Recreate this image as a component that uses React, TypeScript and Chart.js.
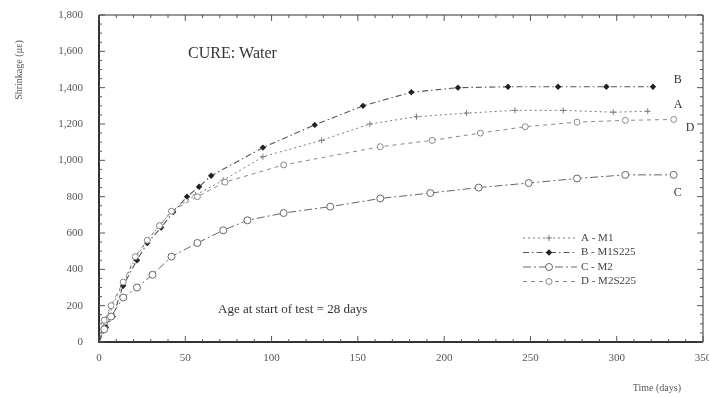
import React, { useEffect, useRef } from "react";
import { Chart, registerables } from "chart.js";

Chart.register(...registerables);

// ---- data ----
const daysA = [0, 3, 7, 14, 21, 28, 35, 42, 56, 72, 95, 129, 157, 184, 213, 241, 269, 298, 318];
const shrinkA = [0, 110, 190, 320, 460, 560, 640, 720, 810, 890, 1020, 1110, 1200, 1240, 1260, 1275, 1275, 1265, 1270];

const daysB = [0, 4, 8, 14, 22, 28, 36, 43, 51, 58, 65, 95, 125, 153, 181, 208, 237, 266, 294, 321];
const shrinkB = [0, 80, 140, 310, 450, 545, 630, 715, 800, 855, 915, 1070, 1195, 1300, 1375, 1400, 1405, 1405, 1405, 1405];

const daysC = [0, 3, 7, 14, 22, 31, 42, 57, 72, 86, 107, 134, 163, 192, 220, 249, 277, 305, 333];
const shrinkC = [0, 70, 140, 245, 300, 370, 470, 545, 615, 670, 710, 745, 790, 820, 850, 875, 900, 920, 920];

const daysD = [0, 3, 7, 14, 21, 28, 35, 42, 57, 73, 107, 163, 193, 221, 247, 277, 305, 333];
const shrinkD = [0, 120, 200, 330, 470, 560, 640, 720, 800, 880, 975, 1075, 1110, 1150, 1185, 1210, 1220, 1225];

const seriesNames = ["A - M1", "B - M1S225", "C - M2", "D - M2S225"];
const curveLetters = ["A", "B", "C", "D"];
// where each curve letter sits, in data units (days, µε)
const letterDays = [333, 333, 333, 340];
const letterValues = [1304, 1442, 820, 1178];

const xTickValues = [0, 50, 100, 150, 200, 250, 300, 350];
const yTickValues = [0, 200, 400, 600, 800, 1000, 1200, 1400, 1600, 1800];

const titleText = "CURE: Water";
const noteText = "Age at start of test = 28 days";
const yTitle = "Shrinkage (\u00b5\u03b5)";
const xTitle = "Time (days)";

const SERIF = "'Liberation Serif', 'DejaVu Serif', serif";

type Style = { color: string; dash: number[]; width: number; marker: string; fill: string; r: number };
const styles: Style[] = [
  { color: "#7a7a7a", dash: [2, 3], width: 1, marker: "cross", fill: "#777", r: 3 },
  { color: "#555", dash: [6, 3, 1.5, 3], width: 1.1, marker: "diamond", fill: "#222", r: 3.2 },
  { color: "#666", dash: [8, 3, 2, 3], width: 1, marker: "circle", fill: "#fff", r: 3.5 },
  { color: "#888", dash: [4, 4], width: 1, marker: "circle", fill: "#fff", r: 3 },
];

function drawMarker(ctx: CanvasRenderingContext2D, kind: string, x: number, y: number, r: number, color: string, fill: string) {
  ctx.save();
  ctx.setLineDash([]);
  ctx.strokeStyle = color;
  ctx.lineWidth = 1;
  if (kind === "cross") {
    ctx.beginPath();
    ctx.moveTo(x - r, y);
    ctx.lineTo(x + r, y);
    ctx.moveTo(x, y - r);
    ctx.lineTo(x, y + r);
    ctx.stroke();
  } else if (kind === "diamond") {
    ctx.fillStyle = fill;
    ctx.beginPath();
    ctx.moveTo(x, y - r);
    ctx.lineTo(x + r, y);
    ctx.lineTo(x, y + r);
    ctx.lineTo(x - r, y);
    ctx.closePath();
    ctx.fill();
  } else {
    ctx.fillStyle = fill;
    ctx.beginPath();
    ctx.arc(x, y, r, 0, Math.PI * 2);
    ctx.fill();
    ctx.stroke();
  }
  ctx.restore();
}

const decorPlugin = {
  id: "decor",
  afterDatasetsDraw(chart: any) {
    const { ctx, chartArea: a, scales } = chart;
    const xs = scales.x;
    const ys = scales.y;
    ctx.save();
    // frame
    ctx.strokeStyle = "#333";
    ctx.setLineDash([]);
    ctx.lineWidth = 1;
    ctx.beginPath();
    ctx.moveTo(a.left, a.top);
    ctx.lineTo(a.right, a.top);
    ctx.lineTo(a.right, a.bottom);
    ctx.stroke();
    ctx.lineWidth = 2;
    ctx.beginPath();
    ctx.moveTo(a.left, a.top);
    ctx.lineTo(a.left, a.bottom);
    ctx.lineTo(a.right, a.bottom);
    ctx.stroke();

    // inward ticks on y (left and right)
    ctx.lineWidth = 1;
    ctx.strokeStyle = "#555";
    for (let v = 0; v <= 1800; v += 50) {
      const py = ys.getPixelForValue(v);
      const len = v % 200 === 0 ? 6 : 3;
      ctx.beginPath();
      ctx.moveTo(a.left, py);
      ctx.lineTo(a.left + len, py);
      ctx.moveTo(a.right, py);
      ctx.lineTo(a.right - len, py);
      ctx.stroke();
    }
    // inward ticks on x (bottom and top)
    for (let d = 0; d <= 350; d += 10) {
      const px = xs.getPixelForValue(d);
      const len = d % 50 === 0 ? 6 : 3;
      ctx.beginPath();
      ctx.moveTo(px, a.bottom);
      ctx.lineTo(px, a.bottom - len);
      ctx.moveTo(px, a.top);
      ctx.lineTo(px, a.top + len);
      ctx.stroke();
    }

    // texts
    ctx.fillStyle = "#333";
    ctx.textBaseline = "middle";
    ctx.textAlign = "left";
    ctx.font = `16px ${SERIF}`;
    ctx.fillText(titleText, 188, 54);
    ctx.font = `13px ${SERIF}`;
    ctx.fillText(noteText, 218, 310);

    ctx.font = `12px ${SERIF}`;
    for (let i = 0; i < curveLetters.length; i++) {
      ctx.fillText(curveLetters[i], xs.getPixelForValue(letterDays[i]), ys.getPixelForValue(letterValues[i]));
    }

    // axis titles
    ctx.font = `10px ${SERIF}`;
    ctx.fillStyle = "#555";
    ctx.textAlign = "right";
    ctx.fillText(xTitle, 681, 388);
    ctx.save();
    ctx.translate(19, 70);
    ctx.rotate(-Math.PI / 2);
    ctx.textAlign = "center";
    ctx.fillText(yTitle, 0, 0);
    ctx.restore();

    // legend
    ctx.font = `11px ${SERIF}`;
    ctx.fillStyle = "#444";
    ctx.textAlign = "left";
    for (let i = 0; i < seriesNames.length; i++) {
      const ly = 238 + i * 14.5;
      const s = styles[i];
      ctx.strokeStyle = s.color;
      ctx.lineWidth = s.width;
      ctx.setLineDash(s.dash);
      ctx.beginPath();
      ctx.moveTo(523, ly);
      ctx.lineTo(577, ly);
      ctx.stroke();
      drawMarker(ctx, s.marker, 549, ly, s.r, s.color, s.fill);
      ctx.fillText(seriesNames[i], 581, ly);
    }
    ctx.restore();
  },
};

const markerPlugin = {
  id: "markers",
  afterDatasetsDraw(chart: any) {
    const { ctx } = chart;
    chart.data.datasets.forEach((ds: any, i: number) => {
      const meta = chart.getDatasetMeta(i);
      const s = styles[i];
      meta.data.forEach((pt: any, j: number) => {
        if (j === 0) return;
        drawMarker(ctx, s.marker, pt.x, pt.y, s.r, s.color, s.fill);
      });
    });
  },
};

function toPoints(days: number[], vals: number[]) {
  return days.map((d, i) => ({ x: d, y: vals[i] }));
}

export default function App() {
  const ref = useRef<HTMLCanvasElement | null>(null);
  useEffect(() => {
    if (!ref.current) return;
    const all = [
      toPoints(daysA, shrinkA),
      toPoints(daysB, shrinkB),
      toPoints(daysC, shrinkC),
      toPoints(daysD, shrinkD),
    ];
    const chart = new Chart(ref.current, {
      type: "line",
      data: {
        datasets: all.map((pts, i) => ({
          label: seriesNames[i],
          data: pts,
          borderColor: styles[i].color,
          borderWidth: styles[i].width,
          borderDash: styles[i].dash,
          pointRadius: 0,
          tension: 0,
          fill: false,
        })),
      },
      options: {
        animation: false,
        responsive: false,
        layout: { padding: { left: 0, right: 6, top: 15, bottom: 0 } },
        plugins: { legend: { display: false }, tooltip: { enabled: false } },
        scales: {
          x: {
            type: "linear",
            min: 0,
            max: 350,
            grid: { display: false, drawTicks: false },
            border: { display: false },
            afterBuildTicks: (s: any) => {
              s.ticks = xTickValues.map((v) => ({ value: v }));
            },
            ticks: {
              padding: 10,
              color: "#555",
              font: { family: SERIF, size: 11 },
              maxRotation: 0,
              autoSkip: false,
            },
            afterFit: (s: any) => {
              s.height = 55;
              s.paddingLeft = 0;
              s.paddingRight = 0;
            },
          },
          y: {
            min: 0,
            max: 1800,
            grid: { display: false, drawTicks: false },
            border: { display: false },
            afterBuildTicks: (s: any) => {
              s.ticks = yTickValues.map((v) => ({ value: v }));
            },
            ticks: {
              padding: 16,
              color: "#555",
              font: { family: SERIF, size: 11 },
              callback: (v: any) => Number(v).toLocaleString("en-US"),
            },
            afterFit: (s: any) => {
              s.width = 99;
              s.paddingTop = 0;
              s.paddingBottom = 0;
            },
          },
        },
      },
      plugins: [markerPlugin, decorPlugin],
    });
    return () => chart.destroy();
  }, []);
  return (
    <div style={{ position: "fixed", left: 0, top: 0, width: 709, height: 397, background: "#fff" }}>
      <canvas ref={ref} width={709} height={397} style={{ display: "block" }} />
    </div>
  );
}
